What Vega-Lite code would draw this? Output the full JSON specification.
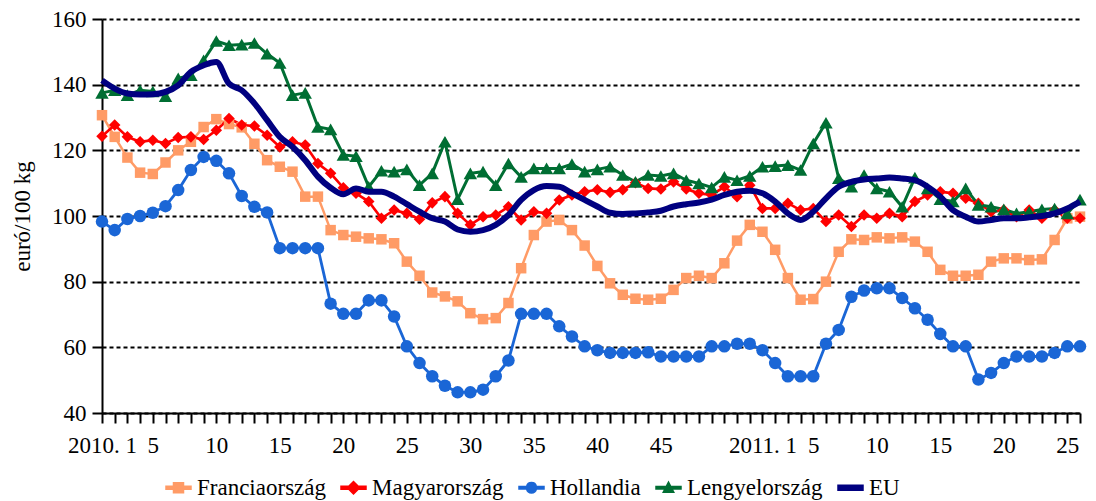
{
"$schema": "https://vega.github.io/schema/vega-lite/v6.json",
"width": 978, "height": 394,
"autosize": {"type": "none"},
"padding": {"left": 102, "top": 19, "right": 16, "bottom": 88},
"background": "white",
"config": {"view": {"stroke": null}, "font": "Liberation Serif"},
"data": {"values": [
{"n":1,"orszag":"Franciaország","ar":130.7},{"n":2,"orszag":"Franciaország","ar":124.1},{"n":3,"orszag":"Franciaország","ar":117.8},{"n":4,"orszag":"Franciaország","ar":113.2},{"n":5,"orszag":"Franciaország","ar":112.8},{"n":6,"orszag":"Franciaország","ar":116.3},{"n":7,"orszag":"Franciaország","ar":120},{"n":8,"orszag":"Franciaország","ar":122.6},{"n":9,"orszag":"Franciaország","ar":127.1},{"n":10,"orszag":"Franciaország","ar":129.5},{"n":11,"orszag":"Franciaország","ar":128},{"n":12,"orszag":"Franciaország","ar":127},{"n":13,"orszag":"Franciaország","ar":122},{"n":14,"orszag":"Franciaország","ar":117},{"n":15,"orszag":"Franciaország","ar":115},{"n":16,"orszag":"Franciaország","ar":113.5},{"n":17,"orszag":"Franciaország","ar":105.9},{"n":18,"orszag":"Franciaország","ar":105.9},{"n":19,"orszag":"Franciaország","ar":95.7},{"n":20,"orszag":"Franciaország","ar":94.2},{"n":21,"orszag":"Franciaország","ar":93.7},{"n":22,"orszag":"Franciaország","ar":93.2},{"n":23,"orszag":"Franciaország","ar":92.9},{"n":24,"orszag":"Franciaország","ar":91.7},{"n":25,"orszag":"Franciaország","ar":86.1},{"n":26,"orszag":"Franciaország","ar":81.8},{"n":27,"orszag":"Franciaország","ar":76.7},{"n":28,"orszag":"Franciaország","ar":75.5},{"n":29,"orszag":"Franciaország","ar":74},{"n":30,"orszag":"Franciaország","ar":70.4},{"n":31,"orszag":"Franciaország","ar":68.6},{"n":32,"orszag":"Franciaország","ar":68.9},{"n":33,"orszag":"Franciaország","ar":73.5},{"n":34,"orszag":"Franciaország","ar":84.1},{"n":35,"orszag":"Franciaország","ar":94.2},{"n":36,"orszag":"Franciaország","ar":98.3},{"n":37,"orszag":"Franciaország","ar":98.8},{"n":38,"orszag":"Franciaország","ar":95.7},{"n":39,"orszag":"Franciaország","ar":91},{"n":40,"orszag":"Franciaország","ar":84.8},{"n":41,"orszag":"Franciaország","ar":79.5},{"n":42,"orszag":"Franciaország","ar":76},{"n":43,"orszag":"Franciaország","ar":74.8},{"n":44,"orszag":"Franciaország","ar":74.5},{"n":45,"orszag":"Franciaország","ar":74.8},{"n":46,"orszag":"Franciaország","ar":77.5},{"n":47,"orszag":"Franciaország","ar":81.1},{"n":48,"orszag":"Franciaország","ar":81.8},{"n":49,"orszag":"Franciaország","ar":81.1},{"n":50,"orszag":"Franciaország","ar":85.6},{"n":51,"orszag":"Franciaország","ar":92.5},{"n":52,"orszag":"Franciaország","ar":97.3},{"n":53,"orszag":"Franciaország","ar":95.2},{"n":54,"orszag":"Franciaország","ar":89.7},{"n":55,"orszag":"Franciaország","ar":81.1},{"n":56,"orszag":"Franciaország","ar":74.5},{"n":57,"orszag":"Franciaország","ar":74.7},{"n":58,"orszag":"Franciaország","ar":80},{"n":59,"orszag":"Franciaország","ar":89.1},{"n":60,"orszag":"Franciaország","ar":92.9},{"n":61,"orszag":"Franciaország","ar":92.7},{"n":62,"orszag":"Franciaország","ar":93.5},{"n":63,"orszag":"Franciaország","ar":93.2},{"n":64,"orszag":"Franciaország","ar":93.5},{"n":65,"orszag":"Franciaország","ar":92.2},{"n":66,"orszag":"Franciaország","ar":89.1},{"n":67,"orszag":"Franciaország","ar":83.6},{"n":68,"orszag":"Franciaország","ar":81.8},{"n":69,"orszag":"Franciaország","ar":81.8},{"n":70,"orszag":"Franciaország","ar":82.1},{"n":71,"orszag":"Franciaország","ar":86.1},{"n":72,"orszag":"Franciaország","ar":87.1},{"n":73,"orszag":"Franciaország","ar":87.1},{"n":74,"orszag":"Franciaország","ar":86.6},{"n":75,"orszag":"Franciaország","ar":86.8},{"n":76,"orszag":"Franciaország","ar":92.7},{"n":77,"orszag":"Franciaország","ar":99.3},{"n":78,"orszag":"Franciaország","ar":99.8},
{"n":1,"orszag":"Magyarország","ar":124.3},{"n":2,"orszag":"Magyarország","ar":127.7},{"n":3,"orszag":"Magyarország","ar":124.1},{"n":4,"orszag":"Magyarország","ar":122.6},{"n":5,"orszag":"Magyarország","ar":123.1},{"n":6,"orszag":"Magyarország","ar":122.1},{"n":7,"orszag":"Magyarország","ar":123.9},{"n":8,"orszag":"Magyarország","ar":124.1},{"n":9,"orszag":"Magyarország","ar":123.3},{"n":10,"orszag":"Magyarország","ar":126.1},{"n":11,"orszag":"Magyarország","ar":129.7},{"n":12,"orszag":"Magyarország","ar":127.7},{"n":13,"orszag":"Magyarország","ar":127.4},{"n":14,"orszag":"Magyarország","ar":124.6},{"n":15,"orszag":"Magyarország","ar":121},{"n":16,"orszag":"Magyarország","ar":122.6},{"n":17,"orszag":"Magyarország","ar":121.6},{"n":18,"orszag":"Magyarország","ar":116},{"n":19,"orszag":"Magyarország","ar":113},{"n":20,"orszag":"Magyarország","ar":108.6},{"n":21,"orszag":"Magyarország","ar":106.9},{"n":22,"orszag":"Magyarország","ar":104.4},{"n":23,"orszag":"Magyarország","ar":99.3},{"n":24,"orszag":"Magyarország","ar":101.8},{"n":25,"orszag":"Magyarország","ar":100.8},{"n":26,"orszag":"Magyarország","ar":99},{"n":27,"orszag":"Magyarország","ar":104},{"n":28,"orszag":"Magyarország","ar":105.9},{"n":29,"orszag":"Magyarország","ar":100.8},{"n":30,"orszag":"Magyarország","ar":97.3},{"n":31,"orszag":"Magyarország","ar":99.8},{"n":32,"orszag":"Magyarország","ar":100.3},{"n":33,"orszag":"Magyarország","ar":102.8},{"n":34,"orszag":"Magyarország","ar":98.8},{"n":35,"orszag":"Magyarország","ar":101.3},{"n":36,"orszag":"Magyarország","ar":100.8},{"n":37,"orszag":"Magyarország","ar":104.9},{"n":38,"orszag":"Magyarország","ar":106.4},{"n":39,"orszag":"Magyarország","ar":107.4},{"n":40,"orszag":"Magyarország","ar":108},{"n":41,"orszag":"Magyarország","ar":107.2},{"n":42,"orszag":"Magyarország","ar":108},{"n":43,"orszag":"Magyarország","ar":110.1},{"n":44,"orszag":"Magyarország","ar":108.4},{"n":45,"orszag":"Magyarország","ar":108.2},{"n":46,"orszag":"Magyarország","ar":110.4},{"n":47,"orszag":"Magyarország","ar":108.2},{"n":48,"orszag":"Magyarország","ar":106.9},{"n":49,"orszag":"Magyarország","ar":106.4},{"n":50,"orszag":"Magyarország","ar":108.9},{"n":51,"orszag":"Magyarország","ar":105.9},{"n":52,"orszag":"Magyarország","ar":109.4},{"n":53,"orszag":"Magyarország","ar":102.3},{"n":54,"orszag":"Magyarország","ar":102.3},{"n":55,"orszag":"Magyarország","ar":103.9},{"n":56,"orszag":"Magyarország","ar":101.8},{"n":57,"orszag":"Magyarország","ar":102.3},{"n":58,"orszag":"Magyarország","ar":98.3},{"n":59,"orszag":"Magyarország","ar":100.3},{"n":60,"orszag":"Magyarország","ar":96.8},{"n":61,"orszag":"Magyarország","ar":100.3},{"n":62,"orszag":"Magyarország","ar":99.3},{"n":63,"orszag":"Magyarország","ar":100.8},{"n":64,"orszag":"Magyarország","ar":99.8},{"n":65,"orszag":"Magyarország","ar":104.4},{"n":66,"orszag":"Magyarország","ar":106.4},{"n":67,"orszag":"Magyarország","ar":107.4},{"n":68,"orszag":"Magyarország","ar":106.9},{"n":69,"orszag":"Magyarország","ar":105.4},{"n":70,"orszag":"Magyarország","ar":103.9},{"n":71,"orszag":"Magyarország","ar":101.3},{"n":72,"orszag":"Magyarország","ar":101.8},{"n":73,"orszag":"Magyarország","ar":99.8},{"n":74,"orszag":"Magyarország","ar":101.8},{"n":75,"orszag":"Magyarország","ar":99.3},{"n":76,"orszag":"Magyarország","ar":101.8},{"n":77,"orszag":"Magyarország","ar":99.3},{"n":78,"orszag":"Magyarország","ar":99.3},
{"n":1,"orszag":"Hollandia","ar":98.3},{"n":2,"orszag":"Hollandia","ar":95.7},{"n":3,"orszag":"Hollandia","ar":99.1},{"n":4,"orszag":"Hollandia","ar":100},{"n":5,"orszag":"Hollandia","ar":101},{"n":6,"orszag":"Hollandia","ar":103},{"n":7,"orszag":"Hollandia","ar":107.9},{"n":8,"orszag":"Hollandia","ar":114},{"n":9,"orszag":"Hollandia","ar":118},{"n":10,"orszag":"Hollandia","ar":116.8},{"n":11,"orszag":"Hollandia","ar":113},{"n":12,"orszag":"Hollandia","ar":106.1},{"n":13,"orszag":"Hollandia","ar":102.8},{"n":14,"orszag":"Hollandia","ar":101.1},{"n":15,"orszag":"Hollandia","ar":90.2},{"n":16,"orszag":"Hollandia","ar":90.2},{"n":17,"orszag":"Hollandia","ar":90.2},{"n":18,"orszag":"Hollandia","ar":90.2},{"n":19,"orszag":"Hollandia","ar":73.3},{"n":20,"orszag":"Hollandia","ar":70.2},{"n":21,"orszag":"Hollandia","ar":70.2},{"n":22,"orszag":"Hollandia","ar":74.3},{"n":23,"orszag":"Hollandia","ar":74.3},{"n":24,"orszag":"Hollandia","ar":69.4},{"n":25,"orszag":"Hollandia","ar":60.3},{"n":26,"orszag":"Hollandia","ar":55.2},{"n":27,"orszag":"Hollandia","ar":51.2},{"n":28,"orszag":"Hollandia","ar":48.3},{"n":29,"orszag":"Hollandia","ar":46.3},{"n":30,"orszag":"Hollandia","ar":46.3},{"n":31,"orszag":"Hollandia","ar":47.1},{"n":32,"orszag":"Hollandia","ar":51.2},{"n":33,"orszag":"Hollandia","ar":56},{"n":34,"orszag":"Hollandia","ar":70.2},{"n":35,"orszag":"Hollandia","ar":70.2},{"n":36,"orszag":"Hollandia","ar":70.2},{"n":37,"orszag":"Hollandia","ar":66.4},{"n":38,"orszag":"Hollandia","ar":63.3},{"n":39,"orszag":"Hollandia","ar":60.3},{"n":40,"orszag":"Hollandia","ar":59.1},{"n":41,"orszag":"Hollandia","ar":58.3},{"n":42,"orszag":"Hollandia","ar":58.3},{"n":43,"orszag":"Hollandia","ar":58.3},{"n":44,"orszag":"Hollandia","ar":58.5},{"n":45,"orszag":"Hollandia","ar":57.2},{"n":46,"orszag":"Hollandia","ar":57.2},{"n":47,"orszag":"Hollandia","ar":57.2},{"n":48,"orszag":"Hollandia","ar":57.2},{"n":49,"orszag":"Hollandia","ar":60.3},{"n":50,"orszag":"Hollandia","ar":60.3},{"n":51,"orszag":"Hollandia","ar":61.1},{"n":52,"orszag":"Hollandia","ar":61.1},{"n":53,"orszag":"Hollandia","ar":59.1},{"n":54,"orszag":"Hollandia","ar":55.2},{"n":55,"orszag":"Hollandia","ar":51.2},{"n":56,"orszag":"Hollandia","ar":51.2},{"n":57,"orszag":"Hollandia","ar":51.2},{"n":58,"orszag":"Hollandia","ar":61.1},{"n":59,"orszag":"Hollandia","ar":65.3},{"n":60,"orszag":"Hollandia","ar":75.4},{"n":61,"orszag":"Hollandia","ar":77.3},{"n":62,"orszag":"Hollandia","ar":78},{"n":63,"orszag":"Hollandia","ar":78},{"n":64,"orszag":"Hollandia","ar":75},{"n":65,"orszag":"Hollandia","ar":71.9},{"n":66,"orszag":"Hollandia","ar":68.4},{"n":67,"orszag":"Hollandia","ar":64.1},{"n":68,"orszag":"Hollandia","ar":60.3},{"n":69,"orszag":"Hollandia","ar":60.3},{"n":70,"orszag":"Hollandia","ar":50.2},{"n":71,"orszag":"Hollandia","ar":52.2},{"n":72,"orszag":"Hollandia","ar":55.2},{"n":73,"orszag":"Hollandia","ar":57.2},{"n":74,"orszag":"Hollandia","ar":57.2},{"n":75,"orszag":"Hollandia","ar":57.2},{"n":76,"orszag":"Hollandia","ar":58.3},{"n":77,"orszag":"Hollandia","ar":60.3},{"n":78,"orszag":"Hollandia","ar":60.3},
{"n":1,"orszag":"Lengyelország","ar":137.5},{"n":2,"orszag":"Lengyelország","ar":138.3},{"n":3,"orszag":"Lengyelország","ar":136.8},{"n":4,"orszag":"Lengyelország","ar":138.3},{"n":5,"orszag":"Lengyelország","ar":137.9},{"n":6,"orszag":"Lengyelország","ar":136.5},{"n":7,"orszag":"Lengyelország","ar":141.9},{"n":8,"orszag":"Lengyelország","ar":142.9},{"n":9,"orszag":"Lengyelország","ar":147.4},{"n":10,"orszag":"Lengyelország","ar":153.3},{"n":11,"orszag":"Lengyelország","ar":152},{"n":12,"orszag":"Lengyelország","ar":152.2},{"n":13,"orszag":"Lengyelország","ar":152.7},{"n":14,"orszag":"Lengyelország","ar":149.4},{"n":15,"orszag":"Lengyelország","ar":146.6},{"n":16,"orszag":"Lengyelország","ar":136.8},{"n":17,"orszag":"Lengyelország","ar":137.5},{"n":18,"orszag":"Lengyelország","ar":127.1},{"n":19,"orszag":"Lengyelország","ar":126.4},{"n":20,"orszag":"Lengyelország","ar":118.6},{"n":21,"orszag":"Lengyelország","ar":118.2},{"n":22,"orszag":"Lengyelország","ar":108.9},{"n":23,"orszag":"Lengyelország","ar":113.8},{"n":24,"orszag":"Lengyelország","ar":113.5},{"n":25,"orszag":"Lengyelország","ar":114.2},{"n":26,"orszag":"Lengyelország","ar":109.4},{"n":27,"orszag":"Lengyelország","ar":113},{"n":28,"orszag":"Lengyelország","ar":122.6},{"n":29,"orszag":"Lengyelország","ar":105.1},{"n":30,"orszag":"Lengyelország","ar":113},{"n":31,"orszag":"Lengyelország","ar":113.5},{"n":32,"orszag":"Lengyelország","ar":109.4},{"n":33,"orszag":"Lengyelország","ar":116},{"n":34,"orszag":"Lengyelország","ar":111.9},{"n":35,"orszag":"Lengyelország","ar":114.5},{"n":36,"orszag":"Lengyelország","ar":114.5},{"n":37,"orszag":"Lengyelország","ar":114.5},{"n":38,"orszag":"Lengyelország","ar":115.8},{"n":39,"orszag":"Lengyelország","ar":113.5},{"n":40,"orszag":"Lengyelország","ar":114.2},{"n":41,"orszag":"Lengyelország","ar":115},{"n":42,"orszag":"Lengyelország","ar":112.5},{"n":43,"orszag":"Lengyelország","ar":110.4},{"n":44,"orszag":"Lengyelország","ar":112.5},{"n":45,"orszag":"Lengyelország","ar":112.2},{"n":46,"orszag":"Lengyelország","ar":113},{"n":47,"orszag":"Lengyelország","ar":110.9},{"n":48,"orszag":"Lengyelország","ar":109.9},{"n":49,"orszag":"Lengyelország","ar":108.7},{"n":50,"orszag":"Lengyelország","ar":111.9},{"n":51,"orszag":"Lengyelország","ar":110.9},{"n":52,"orszag":"Lengyelország","ar":112.2},{"n":53,"orszag":"Lengyelország","ar":115},{"n":54,"orszag":"Lengyelország","ar":115.2},{"n":55,"orszag":"Lengyelország","ar":115.5},{"n":56,"orszag":"Lengyelország","ar":114},{"n":57,"orszag":"Lengyelország","ar":122.1},{"n":58,"orszag":"Lengyelország","ar":128.4},{"n":59,"orszag":"Lengyelország","ar":111.5},{"n":60,"orszag":"Lengyelország","ar":108.9},{"n":61,"orszag":"Lengyelország","ar":112.5},{"n":62,"orszag":"Lengyelország","ar":108.4},{"n":63,"orszag":"Lengyelország","ar":107.4},{"n":64,"orszag":"Lengyelország","ar":102.8},{"n":65,"orszag":"Lengyelország","ar":111.7},{"n":66,"orszag":"Lengyelország","ar":108.4},{"n":67,"orszag":"Lengyelország","ar":105.1},{"n":68,"orszag":"Lengyelország","ar":104.4},{"n":69,"orszag":"Lengyelország","ar":108.4},{"n":70,"orszag":"Lengyelország","ar":103.4},{"n":71,"orszag":"Lengyelország","ar":102.8},{"n":72,"orszag":"Lengyelország","ar":102},{"n":73,"orszag":"Lengyelország","ar":100.8},{"n":74,"orszag":"Lengyelország","ar":101.3},{"n":75,"orszag":"Lengyelország","ar":102},{"n":76,"orszag":"Lengyelország","ar":102.3},{"n":77,"orszag":"Lengyelország","ar":100.8},{"n":78,"orszag":"Lengyelország","ar":105},
{"n":1,"orszag":"EU","ar":141.3},{"n":2,"orszag":"EU","ar":138.8},{"n":3,"orszag":"EU","ar":137.3},{"n":4,"orszag":"EU","ar":137},{"n":5,"orszag":"EU","ar":137.1},{"n":6,"orszag":"EU","ar":137.8},{"n":7,"orszag":"EU","ar":139.8},{"n":8,"orszag":"EU","ar":143.9},{"n":9,"orszag":"EU","ar":145.9},{"n":10,"orszag":"EU","ar":146.9},{"n":11,"orszag":"EU","ar":140.3},{"n":12,"orszag":"EU","ar":138.3},{"n":13,"orszag":"EU","ar":134.3},{"n":14,"orszag":"EU","ar":129.2},{"n":15,"orszag":"EU","ar":124.1},{"n":16,"orszag":"EU","ar":121.1},{"n":17,"orszag":"EU","ar":117},{"n":18,"orszag":"EU","ar":112},{"n":19,"orszag":"EU","ar":108.6},{"n":20,"orszag":"EU","ar":106.6},{"n":21,"orszag":"EU","ar":108.4},{"n":22,"orszag":"EU","ar":107.4},{"n":23,"orszag":"EU","ar":107.4},{"n":24,"orszag":"EU","ar":105.9},{"n":25,"orszag":"EU","ar":103.6},{"n":26,"orszag":"EU","ar":101.3},{"n":27,"orszag":"EU","ar":99.3},{"n":28,"orszag":"EU","ar":98.3},{"n":29,"orszag":"EU","ar":95.9},{"n":30,"orszag":"EU","ar":95.2},{"n":31,"orszag":"EU","ar":95.7},{"n":32,"orszag":"EU","ar":97.3},{"n":33,"orszag":"EU","ar":100.3},{"n":34,"orszag":"EU","ar":104.9},{"n":35,"orszag":"EU","ar":107.9},{"n":36,"orszag":"EU","ar":109.1},{"n":37,"orszag":"EU","ar":108.9},{"n":38,"orszag":"EU","ar":106.9},{"n":39,"orszag":"EU","ar":104.9},{"n":40,"orszag":"EU","ar":102.9},{"n":41,"orszag":"EU","ar":101},{"n":42,"orszag":"EU","ar":100.6},{"n":43,"orszag":"EU","ar":100.8},{"n":44,"orszag":"EU","ar":101.1},{"n":45,"orszag":"EU","ar":101.6},{"n":46,"orszag":"EU","ar":102.9},{"n":47,"orszag":"EU","ar":103.6},{"n":48,"orszag":"EU","ar":104.1},{"n":49,"orszag":"EU","ar":105},{"n":50,"orszag":"EU","ar":106.4},{"n":51,"orszag":"EU","ar":107.4},{"n":52,"orszag":"EU","ar":107.7},{"n":53,"orszag":"EU","ar":106.9},{"n":54,"orszag":"EU","ar":104.4},{"n":55,"orszag":"EU","ar":100.8},{"n":56,"orszag":"EU","ar":98.8},{"n":57,"orszag":"EU","ar":101.3},{"n":58,"orszag":"EU","ar":105.4},{"n":59,"orszag":"EU","ar":108.9},{"n":60,"orszag":"EU","ar":110.4},{"n":61,"orszag":"EU","ar":111.1},{"n":62,"orszag":"EU","ar":111.4},{"n":63,"orszag":"EU","ar":111.7},{"n":64,"orszag":"EU","ar":111.4},{"n":65,"orszag":"EU","ar":110.9},{"n":66,"orszag":"EU","ar":108.9},{"n":67,"orszag":"EU","ar":105.9},{"n":68,"orszag":"EU","ar":101.8},{"n":69,"orszag":"EU","ar":99.8},{"n":70,"orszag":"EU","ar":98.3},{"n":71,"orszag":"EU","ar":98.8},{"n":72,"orszag":"EU","ar":99.3},{"n":73,"orszag":"EU","ar":99.3},{"n":74,"orszag":"EU","ar":99.6},{"n":75,"orszag":"EU","ar":100},{"n":76,"orszag":"EU","ar":100.8},{"n":77,"orszag":"EU","ar":102.3},{"n":78,"orszag":"EU","ar":104.4}
]},
"encoding": {
  "x": {"field": "n", "type": "quantitative",
    "scale": {"domain": [1, 78], "nice": false, "zero": false},
    "axis": {"title": null,
      "values": [1,2,3,4,5,6,7,8,9,10,11,12,13,14,15,16,17,18,19,20,21,22,23,24,25,26,27,28,29,30,31,32,33,34,35,36,37,38,39,40,41,42,43,44,45,46,47,48,49,50,51,52,53,54,55,56,57,58,59,60,61,62,63,64,65,66,67,68,69,70,71,72,73,74,75,76,77,78],
      "labelExpr": "datum.value == 1 ? '2010. 1' : datum.value == 53 ? '2011. 1' : datum.value == 50 ? '' : (((datum.value - 1) % 52) + 1) % 5 == 0 ? '' + (((datum.value - 1) % 52) + 1) : ''",
      "labelOverlap": false, "labelFlush": false, "grid": false,
      "domainColor": "black", "domainWidth": 2, "tickColor": "black", "tickWidth": 2, "tickSize": 10,
      "labelFont": "Liberation Serif", "labelFontSize": 23, "labelColor": "black", "labelPadding": 11}},
  "y": {"field": "ar", "type": "quantitative",
    "scale": {"domain": [40, 160], "nice": false, "zero": false},
    "axis": {"title": "euró/100 kg", "values": [40,60,80,100,120,140,160],
      "grid": true, "gridColor": "black", "gridDash": [4,3], "gridWidth": 2,
      "domainColor": "black", "domainWidth": 2, "tickColor": "black", "tickWidth": 2, "tickSize": 10,
      "labelFont": "Liberation Serif", "labelFontSize": 23, "labelColor": "black", "labelPadding": 6,
      "titleFont": "Liberation Serif", "titleFontSize": 23, "titleFontWeight": "normal", "titleColor": "black", "titlePadding": 17}},
  "color": {"field": "orszag", "type": "nominal",
    "scale": {"domain": ["Franciaország","Magyarország","Hollandia","Lengyelország","EU"],
              "range": ["#FF9B66","#FF0000","#1A66D6","#006E33","#000080"]},
    "legend": {"title": null, "orient": "none", "legendX": 63, "legendY": 455, "direction": "horizontal",
      "columnPadding": 12, "labelFont": "Liberation Serif", "labelFontSize": 23, "labelColor": "black",
      "labelOffset": 5, "symbolSize": 625, "labelLimit": 0,
      "encode": {"symbols": {"update": {
        "shape": {"signal": "datum.value === 'Franciaország' ? 'M-1,-0.12H-0.4V-0.4H0.4V-0.12H1V0.12H0.4V0.4H-0.4V0.12H-1Z' : datum.value === 'Magyarország' ? 'M-1,-0.12H-0.38L0,-0.5L0.38,-0.12H1V0.12H0.38L0,0.5L-0.38,0.12H-1Z' : datum.value === 'Hollandia' ? 'M-1,-0.1H-0.39A0.4,0.4 0 0 1 0.39,-0.1H1V0.1H0.39A0.4,0.4 0 0 1 -0.39,0.1H-1Z' : datum.value === 'Lengyelország' ? 'M-1,-0.1H1V0.1H-1Z M0,-0.45L0.42,0.35H-0.42Z' : 'M-1,-0.2H1V0.2H-1Z'"},
        "fill": {"scale": "color", "field": "value"},
        "stroke": {"value": "transparent"},
        "opacity": {"value": 1}}}}}}
},
"layer": [
  {"transform": [{"filter": "datum.orszag !== 'EU'"}],
   "mark": {"type": "line", "clip": false},
   "encoding": {"strokeWidth": {"field": "orszag", "type": "nominal",
      "scale": {"domain": ["Franciaország","Magyarország","Hollandia","Lengyelország"], "range": [2.5, 3, 2, 2]}, "legend": null}}},
  {"transform": [{"filter": "datum.orszag !== 'EU'"}],
   "mark": {"type": "point", "filled": true, "opacity": 1, "clip": false},
   "encoding": {
     "shape": {"field": "orszag", "type": "nominal",
       "scale": {"domain": ["Franciaország","Magyarország","Hollandia","Lengyelország"], "range": ["square","diamond","circle","triangle-up"]}, "legend": null},
     "size": {"field": "orszag", "type": "nominal",
       "scale": {"domain": ["Franciaország","Magyarország","Hollandia","Lengyelország"], "range": [110, 180, 115, 110]}, "legend": null}}},
  {"transform": [{"filter": "datum.orszag === 'EU'"}],
   "mark": {"type": "line", "interpolate": "monotone", "strokeWidth": 6, "clip": false},
   "encoding": {}}
]
}
